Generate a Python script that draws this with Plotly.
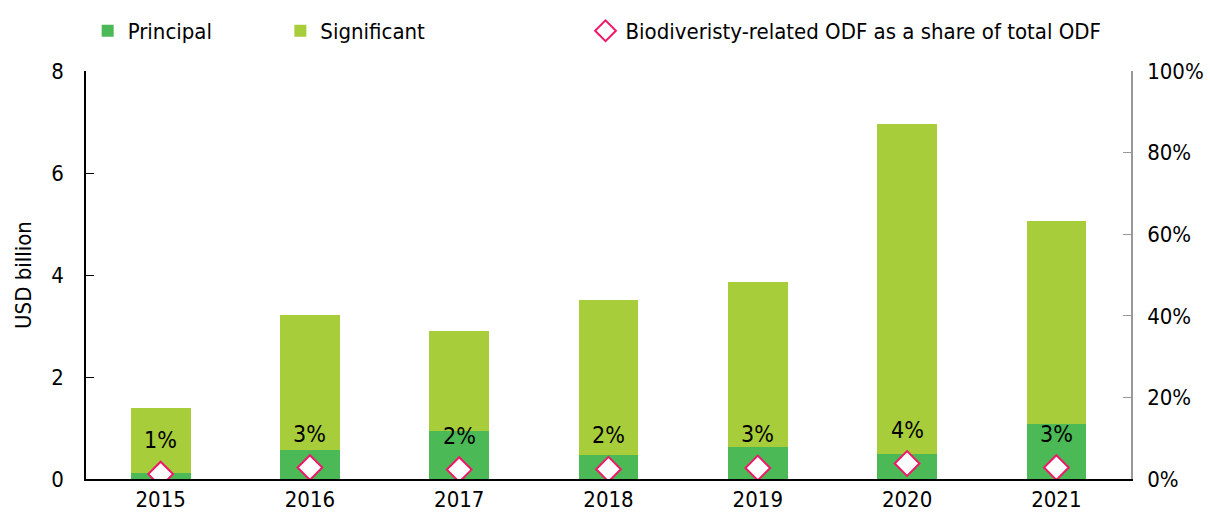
import plotly.graph_objects as go

years = ["2015", "2016", "2017", "2018", "2019", "2020", "2021"]
principal = [0.12, 0.57, 0.94, 0.47, 0.63, 0.49, 1.08]
significant = [1.27, 2.65, 1.96, 3.04, 3.23, 6.47, 3.98]
share = [1.2, 2.8, 2.3, 2.4, 2.7, 3.8, 2.8]
share_labels = ["1%", "3%", "2%", "2%", "3%", "4%", "3%"]

FONT = "DejaVu Sans Condensed, Liberation Sans Narrow, Arial Narrow, Liberation Sans, Arial"

fig = go.Figure()
fig.add_trace(go.Bar(x=years, y=principal, name="Principal", marker_color="#4BB956",
                     marker_line_width=0, width=0.4, legend="legend"))
fig.add_trace(go.Bar(x=years, y=significant, name="Significant", marker_color="#A8CD3A",
                     marker_line_width=0, width=0.4, legend="legend2"))
fig.add_trace(go.Scatter(x=years, y=share, yaxis="y2", mode="markers",
                         name="Biodiveristy-related ODF as a share of total ODF",
                         marker=dict(symbol="diamond", size=19, color="white",
                                     line=dict(color="#F0186A", width=2)),
                         legend="legend3"))

for i, (s, t) in enumerate(zip(share, share_labels)):
    fig.add_annotation(x=i, xref="x", y=s, yref="y2", text=t, showarrow=False, yshift=34,
                       font=dict(size=23, color="black", family=FONT))

leg_common = dict(orientation="h", y=1 + 40 / 408, yanchor="middle", xanchor="left",
                  font=dict(size=22, color="black", family=FONT),
                  bgcolor="rgba(0,0,0,0)", itemwidth=30)
fig.update_layout(
    barmode="stack",
    bargap=0.6,
    width=1210, height=513,
    margin=dict(l=86, r=79, t=71, b=34, autoexpand=False),
    plot_bgcolor="white", paper_bgcolor="white",
    font=dict(family=FONT, size=22, color="black"),
    legend=dict(x=0.0016, **leg_common),
    legend2=dict(x=0.186, **leg_common),
    legend3=dict(x=0.478, **leg_common),
    xaxis=dict(showline=True, linecolor="black", linewidth=2, ticks="",
               tickfont=dict(size=22), range=[-0.5, 6.5], automargin=False,
               ticklabelstandoff=0),
    yaxis=dict(range=[0, 8], dtick=2, showgrid=False, zeroline=False,
               showline=True, linecolor="black", linewidth=1.5,
               ticks="inside", ticklen=8, tickcolor="black",
               tickfont=dict(size=22), automargin=False, ticklabelstandoff=16,
               title=dict(text="USD billion", font=dict(size=22), standoff=14)),
    yaxis2=dict(range=[0, 100], dtick=20, overlaying="y", side="right",
                showgrid=False, zeroline=False, showline=True,
                linecolor="#999999", linewidth=1.5, ticks="inside", ticklen=8,
                tickcolor="#999999", ticksuffix="%", tickfont=dict(size=22),
                automargin=False, ticklabelstandoff=10),
    showlegend=True,
)
fig.write_html("out.html", config={"displayModeBar": False},
               post_script="document.body.style.margin='0';document.body.style.padding='0';")
